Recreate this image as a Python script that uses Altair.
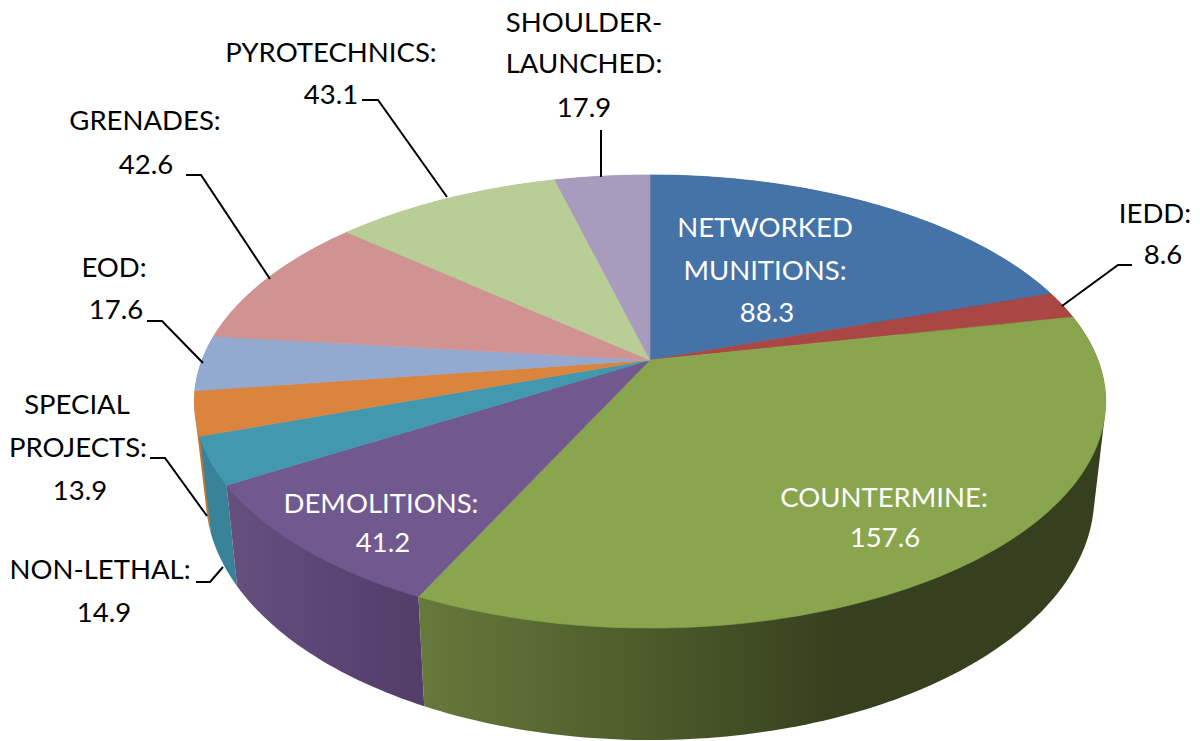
import math
import altair as alt

categories = ["NETWORKED MUNITIONS", "IEDD", "COUNTERMINE", "DEMOLITIONS", "NON-LETHAL",
              "SPECIAL PROJECTS", "EOD", "GRENADES", "PYROTECHNICS", "SHOULDER-LAUNCHED"]
values = [88.3, 8.6, 157.6, 41.2, 14.9, 13.9, 17.6, 42.6, 43.1, 17.9]
top_colors = ["#4572A7", "#AA4643", "#89A54E", "#71588F", "#4198AF",
              "#DB843D", "#93A9CF", "#D19392", "#B9CD96", "#A99BBD"]
wall_colors = ["#2c4a6d", "#6e2d2b", "#363f1e", "#5a4476", "#38839a",
               "#c57530", "#7a8cac", "#a97776", "#97a87a", "#8a7e9b"]

# view geometry of the 3D pie (page pixels minus the 8px margin)
OX, OY = 650 - 8, 360 - 8
A, B, P = 448.0, 219.0, 0.183
H, SHRINK = 91.5, 0.975
total = sum(values)


def top_pt(t):
    x, z = math.sin(t), math.cos(t)
    d = 1 + P * z
    return [OX + A * x / d, OY - B * z / d]


def low_pt(t):
    x, z = math.sin(t), math.cos(t)
    d = 1 + P * z
    return [OX + SHRINK * A * x / d, OY - B * z / d + H / d]


def arc(start, end):
    n = max(2, int((end - start) / math.radians(1)) + 1)
    return [start + (end - start) * i / n for i in range(n + 1)]


def hull(points):
    pts = sorted(map(tuple, points))

    def half(seq):
        out = []
        for p in seq:
            while len(out) >= 2 and ((out[-1][0] - out[-2][0]) * (p[1] - out[-2][1])
                                     - (out[-1][1] - out[-2][1]) * (p[0] - out[-2][0])) <= 0:
                out.pop()
            out.append(p)
        return out[:-1]

    return [list(p) for p in half(pts) + half(pts[::-1])]


def poly(points):
    points = points + [points[0]]
    return {"type": "Feature", "properties": {},
            "geometry": {"type": "Polygon", "coordinates": [points]}}


def stroke_line(points):
    return {"type": "Feature", "properties": {},
            "geometry": {"type": "LineString", "coordinates": points}}


W, Hh = 1184, 733
proj = alt.Projection(type="identity", scale=1, translate=[0, 0])


def shape(feature, **mark):
    return alt.Chart(alt.Data(values=[feature])).mark_geoshape(**mark).project(**proj.to_dict())


def grad(stops):
    return alt.LinearGradient(gradient="linear", x1=0, x2=1, y1=0, y2=0,
                              stops=[alt.GradientStop(color=c, offset=o) for o, c in stops])


angles = []
c = 0.0
for v in values:
    angles.append((c / total * 2 * math.pi, (c + v) / total * 2 * math.pi))
    c += v

wall_fill = {i: col for i, col in enumerate(wall_colors)}
wall_fill[2] = grad([(0, "#67793b"), (0.3, "#4e5e2c"), (0.62, "#363f1e"), (1, "#363f1e")])
wall_fill[3] = grad([(0, "#66507f"), (0.5, "#5a4574"), (1, "#533e69")])

layers = []
for i in [0, 1, 9, 8, 7, 6, 5, 4, 3, 2]:
    s, e = angles[i]
    ts = arc(s, e)
    pts = hull([top_pt(t) for t in ts] + [low_pt(t) for t in ts])
    layers.append(shape(poly(pts), fill=wall_fill[i], strokeWidth=0, stroke="#000000", strokeOpacity=0))

for i, (s, e) in enumerate(angles):
    pts = [[OX, OY]] + [top_pt(t) for t in arc(s, e)]
    layers.append(shape(poly(pts), fill=top_colors[i], stroke=top_colors[i], strokeWidth=0.6))

leaders = [
    [(1062, 306), (1118, 265), (1132, 265)],
    [(601, 177), (601, 130)],
    [(447, 197), (378, 100), (362, 100)],
    [(270, 279), (201, 175), (186, 175)],
    [(203, 363), (162, 321), (147, 321)],
    [(207, 516), (165, 458), (150, 458)],
    [(223, 567), (210, 582), (196, 582)],
]
for line in leaders:
    layers.append(shape(stroke_line([[x - 8, y - 8] for x, y in line]),
                        filled=False, stroke="#000000", strokeWidth=2))

labels = [
    ("SHOULDER-", 584, 24, "#000000"), ("LAUNCHED:", 584, 65, "#000000"), ("17.9", 584, 109, "#000000"),
    ("PYROTECHNICS:", 331, 54, "#000000"), ("43.1", 331, 96, "#000000"),
    ("GRENADES:", 145, 122, "#000000"), ("42.6", 146, 166, "#000000"),
    ("EOD:", 114, 269, "#000000"), ("17.6", 116, 311, "#000000"),
    ("SPECIAL", 77, 406, "#000000"), ("PROJECTS:", 78, 449, "#000000"), ("13.9", 80, 492, "#000000"),
    ("NON-LETHAL:", 100, 571, "#000000"), ("14.9", 104, 614, "#000000"),
    ("IEDD:", 1155, 215, "#000000"), ("8.6", 1163, 256, "#000000"),
    ("NETWORKED", 765, 229, "#ffffff"), ("MUNITIONS:", 765, 272, "#ffffff"), ("88.3", 767, 314, "#ffffff"),
    ("COUNTERMINE:", 884, 499, "#ffffff"), ("157.6", 885, 539, "#ffffff"),
    ("DEMOLITIONS:", 381, 505, "#ffffff"), ("41.2", 383, 544, "#ffffff"),
]
for text, x, y, col in labels:
    layers.append(alt.Chart(alt.Data(values=[{"t": text}])).mark_text(
        font="Lato", fontSize=27.5, color=col, baseline="middle", align="center"
    ).encode(x=alt.value(x - 8), y=alt.value(y - 8), text="t:N"))

chart = alt.layer(*layers).properties(
    width=W, height=Hh, padding=0, background="#ffffff",
    autosize=alt.AutoSizeParams(type="none"),
).configure_view(stroke=None)

chart.save("out.html", embed_options={"renderer": "svg", "actions": False})
